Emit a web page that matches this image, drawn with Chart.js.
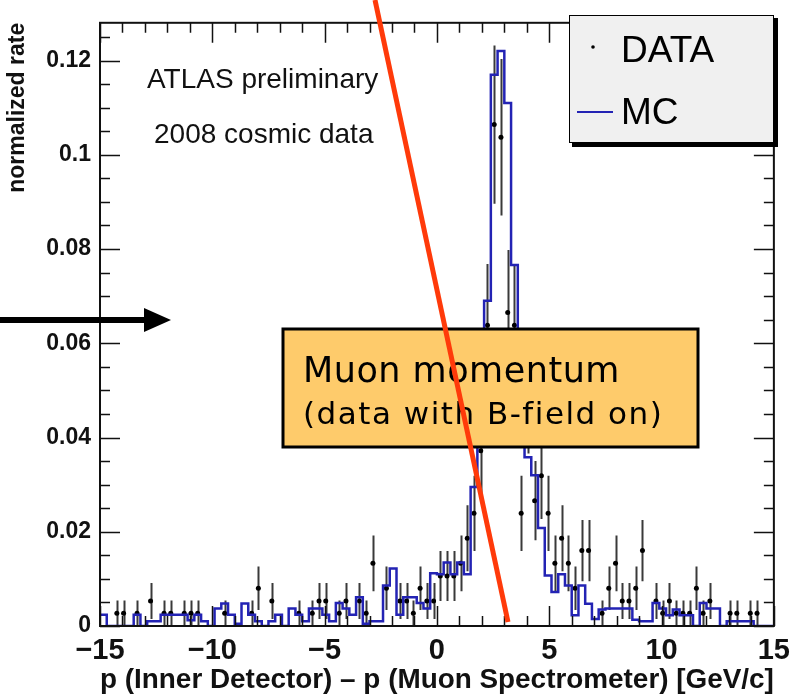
<!DOCTYPE html>
<html>
<head>
<meta charset="utf-8">
<script src="https://cdn.jsdelivr.net/npm/chart.js@4.4.1/dist/chart.umd.min.js"></script>
<style>
  body { margin: 0; background: #fff; }
  canvas { display: block; }
</style>
</head>
<body>
<canvas id="myChart" width="798" height="698"></canvas>
<script>
const ctx = document.getElementById('myChart');

// histogram binning: 100 bins of 0.3 GeV/c from -15 to 15
const binLow = -15;
const binWidth = 0.3;

// MC, normalized rate per bin
const mcRate = [
	0.0024, 0, 0, 0, 0, 0.0024, 0, 0.001, 0.001, 0.0024,
	0.0024, 0.0024, 0.0024, 0.0012, 0.0024, 0.001, 0, 0.0037, 0.0048, 0.0024,
	0.0005, 0.0048, 0.0024, 0.001, 0, 0.001, 0.0024, 0, 0.0037, 0.0024,
	0.001, 0.0037, 0.0037, 0.0024, 0.001, 0.0049, 0.0037, 0.0024, 0.0061, 0.0005,
	0.001, 0.001, 0.0086, 0.0122, 0.0024, 0.0061, 0.0061, 0.0049, 0.0037, 0.0112,
	0.011, 0.0135, 0.011, 0.0135, 0.011, 0.0295, 0.05, 0.069, 0.117, 0.122,
	0.111, 0.0766, 0.045, 0.0358, 0.032, 0.0208, 0.0107, 0.0072, 0.011, 0.0086,
	0.0023, 0.0086, 0.0047, 0.0015, 0.0035, 0.0037, 0.0037, 0.0037, 0.0037, 0.0013,
	0.001, 0.001, 0.0049, 0.0037, 0.0023, 0.0035, 0.0023, 0.0023, 0, 0.0049,
	0.0037, 0.0037, 0, 0.001, 0.001, 0.001, 0.001, 0, 0, 0,
];

// DATA, normalized rate per bin (0 = empty bin, not drawn)
const dataRate = [
	0, 0, 0.0027, 0.0027, 0, 0.0027, 0, 0.0053, 0, 0.0027,
	0.0027, 0, 0.0027, 0.0027, 0.0027, 0, 0, 0, 0.0027, 0,
	0, 0, 0.0027, 0.008, 0, 0.0053, 0, 0, 0, 0.0027,
	0, 0.0027, 0.0053, 0.0053, 0, 0.0027, 0.0053, 0, 0.0053, 0.0027,
	0.0133, 0, 0.008, 0, 0.0053, 0.0053, 0.0027, 0.008, 0.0053, 0.0053,
	0.0106, 0.0106, 0.0106, 0.0133, 0.0186, 0.0239, 0.0372, 0.0638, 0.1064, 0.1037,
	0.0665, 0.0638, 0.0239, 0.0479, 0.0266, 0.0319, 0.0239, 0.0133, 0.0186, 0.0133,
	0.008, 0.016, 0.016, 0, 0.0027, 0.008, 0.0133, 0.0053, 0.0053, 0.008,
	0.016, 0, 0.0053, 0.0027, 0.0053, 0.0027, 0.0027, 0.0027, 0.008, 0.0027,
	0.0053, 0, 0, 0.0027, 0.0027, 0, 0.0027, 0.0027, 0, 0,
];

// DATA, error per bin
const dataErr = [
	0, 0, 0.0027, 0.0027, 0, 0.0027, 0, 0.0038, 0, 0.0027,
	0.0027, 0, 0.0027, 0.0027, 0.0027, 0, 0, 0, 0.0027, 0,
	0, 0, 0.0027, 0.0046, 0, 0.0038, 0, 0, 0, 0.0027,
	0, 0.0027, 0.0038, 0.0038, 0, 0.0027, 0.0038, 0, 0.0038, 0.0027,
	0.0059, 0, 0.0046, 0, 0.0038, 0.0038, 0.0027, 0.0046, 0.0038, 0.0038,
	0.0053, 0.0053, 0.0053, 0.0059, 0.007, 0.008, 0.0099, 0.013, 0.0168, 0.0166,
	0.0133, 0.013, 0.008, 0.0113, 0.0084, 0.0092, 0.008, 0.0059, 0.007, 0.0059,
	0.0046, 0.0065, 0.0065, 0, 0.0027, 0.0046, 0.0059, 0.0038, 0.0038, 0.0046,
	0.0065, 0, 0.0038, 0.0027, 0.0038, 0.0027, 0.0027, 0.0027, 0.0046, 0.0027,
	0.0038, 0, 0, 0.0027, 0.0027, 0, 0.0027, 0.0027, 0, 0,
];

const xTickValues = [-15, -10, -5, 0, 5, 10, 15];
const xTickLabels = ['\u221215', '\u221210', '\u22125', '0', '5', '10', '15'];
const yTickValues = [0, 0.02, 0.04, 0.06, 0.08, 0.1, 0.12];
const yTickLabels = ['0', '0.02', '0.04', '0.06', '0.08', '0.1', '0.12'];

const binEdges = mcRate.map((v, i) => binLow + i * binWidth);
const binCenters = binEdges.map((e) => e + binWidth / 2);

// step line: one point per bin's low edge, plus the upper edge of the last bin
const mcPoints = binEdges.map((e, i) => ({ x: e, y: mcRate[i] }));
mcPoints.push({ x: binLow + mcRate.length * binWidth, y: mcRate[mcRate.length - 1] });

const dataPoints = binCenters.map((c, i) => ({ x: c, y: dataRate[i] > 0 ? dataRate[i] : null }));

const helv = '"Liberation Sans", Arial, Helvetica, sans-serif';
const comic = '"Comic Sans MS", "DejaVu Sans", sans-serif';

const errorBars = {
	id: 'errorBars',
	beforeDatasetsDraw(chart) {
		const { ctx, scales: { x, y }, chartArea } = chart;
		ctx.save();
		ctx.beginPath();
		ctx.rect(chartArea.left, chartArea.top, chartArea.width, chartArea.height);
		ctx.clip();
		ctx.strokeStyle = '#3a3a3a';
		ctx.lineWidth = 2;
		binCenters.forEach((c, i) => {
			if (!(dataRate[i] > 0)) return;
			const px = Math.round(x.getPixelForValue(c)) + 0.5;
			ctx.beginPath();
			ctx.moveTo(px, y.getPixelForValue(dataRate[i] - dataErr[i]));
			ctx.lineTo(px, y.getPixelForValue(dataRate[i] + dataErr[i]));
			ctx.stroke();
		});
		ctx.restore();
	},
};

const decorations = {
	id: 'decorations',
	afterDraw(chart) {
		const { ctx, scales: { x, y }, chartArea: a } = chart;
		ctx.save();

		// frame
		ctx.strokeStyle = '#111';
		ctx.lineWidth = 2;
		ctx.strokeRect(a.left, a.top, a.width, a.height);

		// ticks pointing inwards, on all four sides
		ctx.lineWidth = 1.5;
		ctx.beginPath();
		for (let v = -15; v <= 15; v += 1) {
			const px = Math.round(x.getPixelForValue(v)) + 0.5;
			const len = v % 5 === 0 ? 20 : 10;
			ctx.moveTo(px, a.bottom); ctx.lineTo(px, a.bottom - len);
			ctx.moveTo(px, a.top); ctx.lineTo(px, a.top + len);
		}
		for (let k = 0; k * 0.005 <= 0.128; k++) {
			const py = Math.round(y.getPixelForValue(k * 0.005)) + 0.5;
			const len = k % 4 === 0 ? 20 : 10;
			ctx.moveTo(a.left, py); ctx.lineTo(a.left + len, py);
			ctx.moveTo(a.right, py); ctx.lineTo(a.right - len, py);
		}
		ctx.stroke();

		// labels inside the frame
		ctx.fillStyle = '#111';
		ctx.font = '28px ' + helv;
		ctx.textAlign = 'left';
		ctx.textBaseline = 'alphabetic';
		ctx.fillText('ATLAS preliminary', 147, 88);
		ctx.fillText('2008 cosmic data', 154, 143);

		// legend box with shadow
		ctx.fillStyle = '#000';
		ctx.fillRect(572, 18, 206, 129);
		ctx.fillStyle = '#f0f0f0';
		ctx.fillRect(569, 15, 205, 128);
		ctx.strokeStyle = '#000';
		ctx.lineWidth = 1;
		ctx.strokeRect(569.5, 15.5, 204, 127);
		ctx.fillStyle = '#000';
		ctx.beginPath();
		ctx.arc(593, 47, 1.8, 0, Math.PI * 2);
		ctx.fill();
		ctx.strokeStyle = '#2323b4';
		ctx.lineWidth = 2;
		ctx.beginPath();
		ctx.moveTo(577, 112); ctx.lineTo(613, 112);
		ctx.stroke();
		ctx.fillStyle = '#000';
		ctx.font = '37px ' + helv;
		ctx.textBaseline = 'middle';
		ctx.fillText('DATA', 621, 52);
		ctx.fillText('MC', 621, 114);

		// annotation box
		ctx.fillStyle = '#fecb6b';
		ctx.fillRect(283, 329, 415, 118);
		ctx.strokeStyle = '#000';
		ctx.lineWidth = 3;
		ctx.strokeRect(283, 329, 415, 118);
		ctx.fillStyle = '#000';
		ctx.textBaseline = 'alphabetic';
		ctx.font = '35px ' + comic;
		ctx.letterSpacing = '0.5px';
		ctx.fillText('Muon momentum', 303, 382);
		ctx.font = '31px ' + comic;
		ctx.letterSpacing = '1.5px';
		ctx.fillText('(data with B-field on)', 303, 424);
		ctx.letterSpacing = '0px';

		// red line
		ctx.strokeStyle = '#ff3a0a';
		ctx.lineWidth = 5;
		ctx.beginPath();
		ctx.moveTo(375, 0); ctx.lineTo(508, 622);
		ctx.stroke();

		// black arrow
		ctx.strokeStyle = '#000';
		ctx.fillStyle = '#000';
		ctx.lineWidth = 6;
		ctx.beginPath();
		ctx.moveTo(0, 320); ctx.lineTo(150, 320);
		ctx.stroke();
		ctx.beginPath();
		ctx.moveTo(144, 308); ctx.lineTo(171, 320); ctx.lineTo(144, 332);
		ctx.closePath();
		ctx.fill();

		ctx.restore();
	},
};

new Chart(ctx, {
	type: 'line',
	data: {
		datasets: [
			{
				label: 'MC',
				data: mcPoints,
				stepped: 'before',
				borderColor: '#2323b4',
				borderWidth: 2.5,
				pointRadius: 0,
				fill: false,
			},
			{
				label: 'DATA',
				data: dataPoints,
				showLine: false,
				pointRadius: 2.5,
				pointBackgroundColor: '#000',
				pointBorderWidth: 0,
			},
		],
	},
	options: {
		responsive: false,
		animation: false,
		events: [],
		layout: { padding: { top: 14, right: 20, left: 0, bottom: 0 } },
		plugins: {
			legend: { display: false },
			tooltip: { enabled: false },
		},
		scales: {
			x: {
				type: 'linear',
				min: -15,
				max: 15,
				afterFit: (s) => { s.height = 72; },
				afterBuildTicks: (s) => { s.ticks = xTickValues.map((v) => ({ value: v })); },
				grid: { display: false, drawTicks: false },
				border: { display: false },
				ticks: {
					autoSkip: false,
					maxRotation: 0,
					padding: 8,
					color: '#111',
					font: { family: helv, size: 29, weight: 'bold' },
					callback: (v, i) => xTickLabels[i],
				},
				title: {
					display: true,
					align: 'end',
					text: 'p (Inner Detector) \u2013 p (Muon Spectrometer) [GeV/c]',
					color: '#111',
					font: { family: helv, size: 28, weight: 'bold' },
					padding: { top: 0, bottom: 1 },
				},
			},
			y: {
				min: 0,
				max: 0.128,
				afterFit: (s) => { s.width = 100; },
				afterBuildTicks: (s) => { s.ticks = yTickValues.map((v) => ({ value: v })); },
				grid: { display: false, drawTicks: false },
				border: { display: false },
				ticks: {
					padding: 9,
					color: '#111',
					font: { family: helv, size: 23, weight: 'bold' },
					callback: (v, i) => yTickLabels[i],
				},
				title: {
					display: true,
					align: 'end',
					text: 'normalized rate',
					color: '#111',
					font: { family: helv, size: 23, weight: 'bold' },
					padding: { top: 4, bottom: 4 },
				},
			},
		},
	},
	plugins: [errorBars, decorations],
});
</script>
</body>
</html>
